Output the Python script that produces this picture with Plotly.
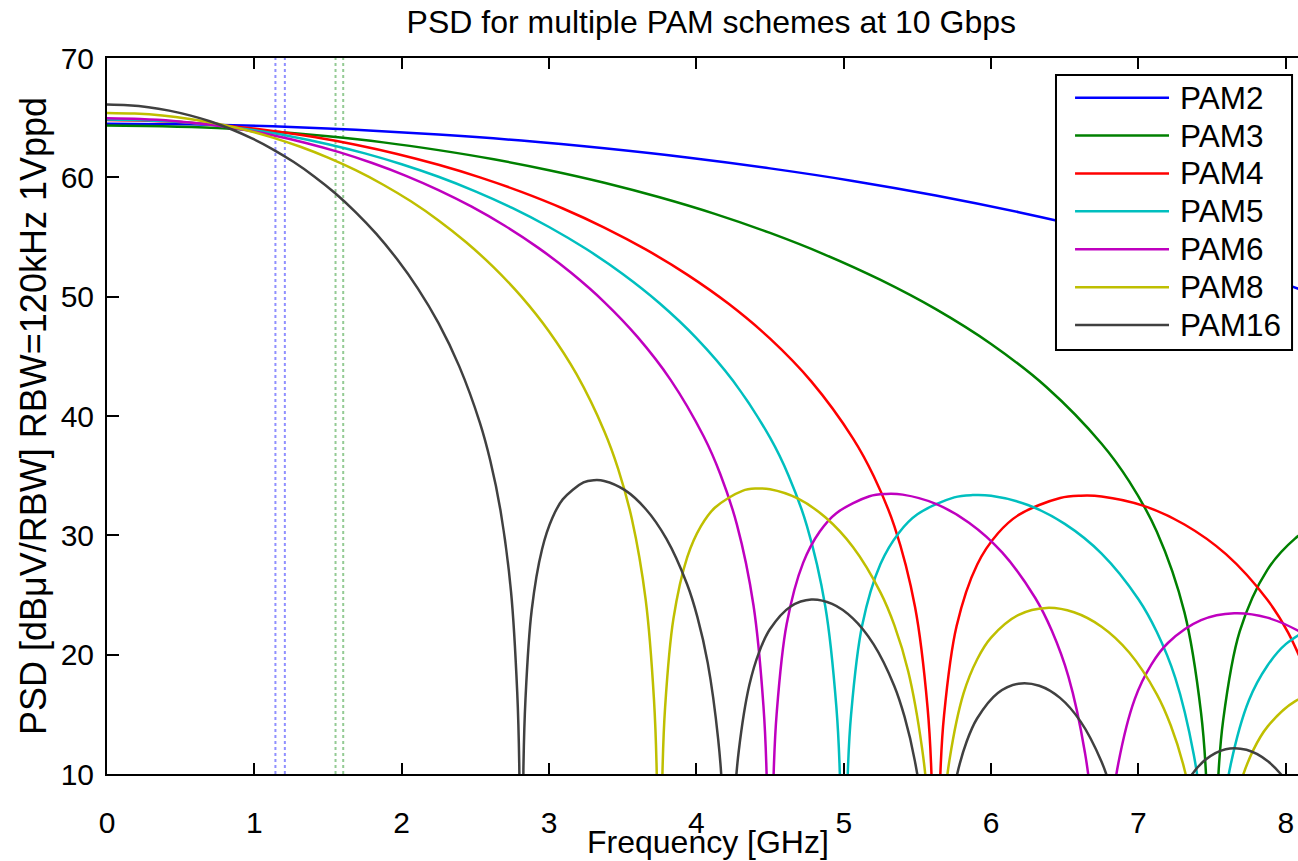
import plotly.graph_objects as go

# ---------------- data ----------------
series_names = ["PAM2", "PAM3", "PAM4", "PAM5", "PAM6", "PAM8", "PAM16"]

f_pam2 = [0, 0.5625, 1.125, 1.6875, 2.25, 2.8125, 3.375, 3.9375, 4.5, 5.0625,
          5.625, 6.1875, 6.75, 7.3125, 7.875, 8.4375]
psd_pam2 = [64.50, 64.44, 64.28, 63.99, 63.59, 63.08, 62.43, 61.66, 60.75, 59.70,
            58.48, 57.08, 55.49, 53.66, 51.55, 49.10]

f_pam3 = [0, 0.375, 0.75, 1.125, 1.5, 1.875, 2.25, 2.625, 3.0, 3.375, 3.75, 4.125,
          4.5, 4.875, 5.25, 5.625, 6.0, 6.375, 6.75, 6.9375, 7.125, 7.3125, 7.425,
          7.4625, 7.5,
          7.5375, 7.575, 7.6875, 7.875, 8.0625, 8.25]
psd_pam3 = [64.35, 64.29, 64.13, 63.84, 63.44, 62.93, 62.28, 61.51, 60.60, 59.55,
            58.33, 56.94, 55.34, 53.51, 51.40, 48.95, 46.03, 42.43, 37.68, 34.52,
            30.30, 23.54, 15.12, 8.95, -30,
            8.63, 14.49, 21.95, 27.11, 29.72, 31.26]

f_pam4 = [0, 0.281, 0.5625, 0.844, 1.125, 1.406, 1.6875, 1.969, 2.25, 2.531, 2.8125,
          3.094, 3.375, 3.656, 3.9375, 4.219, 4.5, 4.781, 5.0625, 5.203, 5.344,
          5.484, 5.569, 5.597, 5.625,
          5.653, 5.681, 5.766, 5.906, 6.047, 6.1875, 6.469, 6.609, 6.75, 7.031,
          7.3125, 7.594, 7.875, 8.016, 8.156]
psd_pam4 = [64.80, 64.74, 64.58, 64.29, 63.89, 63.38, 62.73, 61.96, 61.05, 60.00,
            58.78, 57.39, 55.79, 53.96, 51.85, 49.40, 46.48, 42.88, 38.13, 34.97,
            30.75, 23.99, 15.57, 9.40, -30,
            9.08, 14.94, 22.40, 27.56, 30.17, 31.71, 33.13, 33.32, 33.26, 32.49,
            30.91, 28.42, 24.60, 21.85, 18.01]

f_pam5 = [0, 0.25, 0.5, 0.75, 1.0, 1.25, 1.5, 1.75, 2.0, 2.25, 2.5, 2.75, 3.0,
          3.25, 3.5, 3.75, 4.0, 4.25, 4.5, 4.625, 4.75, 4.875, 4.95, 4.975, 5.0,
          5.025, 5.05, 5.125, 5.25, 5.375, 5.5, 5.75, 5.875, 6.0, 6.25, 6.5, 6.75,
          7.0, 7.125, 7.25, 7.375, 7.425, 7.5,
          7.575, 7.625, 7.75, 7.875, 8.0, 8.25]
psd_pam5 = [64.85, 64.79, 64.63, 64.34, 63.94, 63.43, 62.78, 62.01, 61.10, 60.05,
            58.83, 57.44, 55.84, 54.01, 51.90, 49.45, 46.53, 42.93, 38.18, 35.02,
            30.80, 24.04, 15.62, 9.45, -30,
            9.13, 14.99, 22.45, 27.61, 30.22, 31.76, 33.18, 33.37, 33.31, 32.54,
            30.96, 28.47, 24.65, 21.90, 18.06, 11.66, 7.06, -30,
            6.50, 10.72, 16.18, 19.07, 20.88, 22.79]

f_pam6 = [0, 0.225, 0.45, 0.675, 0.9, 1.125, 1.35, 1.575, 1.8, 2.025, 2.25, 2.475,
          2.7, 2.925, 3.15, 3.375, 3.6, 3.825, 4.05, 4.1625, 4.275, 4.3875, 4.455,
          4.4775, 4.5,
          4.5225, 4.545, 4.6125, 4.725, 4.8375, 4.95, 5.175, 5.2875, 5.4, 5.625,
          5.85, 6.075, 6.3, 6.4125, 6.525, 6.6375, 6.6825, 6.75,
          6.8175, 6.8625, 6.975, 7.0875, 7.2, 7.425, 7.65, 7.875, 8.1, 8.325]
psd_pam6 = [64.95, 64.89, 64.73, 64.44, 64.04, 63.53, 62.88, 62.11, 61.20, 60.15,
            58.93, 57.54, 55.94, 54.11, 52.00, 49.55, 46.63, 43.03, 38.28, 35.12,
            30.90, 24.14, 15.72, 9.55, -30,
            9.23, 15.09, 22.55, 27.71, 30.32, 31.86, 33.28, 33.47, 33.41, 32.64,
            31.06, 28.57, 24.75, 22.00, 18.16, 11.76, 7.16, -30,
            6.60, 10.82, 16.28, 19.17, 20.98, 22.89, 23.47, 23.10, 21.89, 19.73]

f_pam8 = [0, 0.1875, 0.375, 0.5625, 0.75, 0.9375, 1.125, 1.3125, 1.5, 1.6875,
          1.875, 2.0625, 2.25, 2.4375, 2.625, 2.8125, 3.0, 3.1875, 3.375, 3.469,
          3.5625, 3.656, 3.7125, 3.731, 3.75,
          3.769, 3.7875, 3.844, 3.9375, 4.031, 4.125, 4.3125, 4.406, 4.5, 4.6875,
          4.875, 5.0625, 5.25, 5.344, 5.4375, 5.531, 5.569, 5.625,
          5.681, 5.719, 5.8125, 5.906, 6.0, 6.1875, 6.375, 6.5625, 6.75, 6.9375,
          7.125, 7.219, 7.3125, 7.406, 7.5,
          7.594, 7.6875, 7.781, 7.875, 8.0625, 8.25]
psd_pam8 = [65.40, 65.34, 65.18, 64.89, 64.49, 63.98, 63.33, 62.56, 61.65, 60.60,
            59.38, 57.99, 56.39, 54.56, 52.45, 50.00, 47.08, 43.48, 38.73, 35.57,
            31.35, 24.59, 16.17, 10.00, -30,
            9.68, 15.54, 23.00, 28.16, 30.77, 32.31, 33.73, 33.92, 33.86, 33.09,
            31.51, 29.02, 25.20, 22.45, 18.61, 12.21, 7.61, -30,
            7.05, 11.27, 16.73, 19.62, 21.43, 23.34, 23.92, 23.55, 22.34, 20.18,
            16.68, 14.08, 10.38, 4.12, -30,
            3.44, 9.02, 12.04, 13.95, 16.09, 16.87]

f_pam16 = [0, 0.141, 0.281, 0.422, 0.562, 0.703, 0.844, 0.984, 1.125, 1.265, 1.406,
           1.547, 1.687, 1.828, 1.968, 2.109, 2.250, 2.390, 2.531, 2.601, 2.671,
           2.742, 2.784, 2.798, 2.812,
           2.826, 2.840, 2.882, 2.953, 3.023, 3.093, 3.234, 3.304, 3.374, 3.515,
           3.656, 3.796, 3.937, 4.007, 4.077, 4.148, 4.176, 4.218,
           4.260, 4.288, 4.359, 4.429, 4.499, 4.640, 4.780, 4.921, 5.062, 5.202,
           5.343, 5.413, 5.483, 5.554, 5.624,
           5.694, 5.765, 5.835, 5.905, 6.046, 6.186, 6.327, 6.468, 6.608, 6.749,
           6.819, 6.889, 7.030,
           7.171, 7.311, 7.452, 7.592, 7.733, 7.874, 8.014, 8.155]
psd_pam16 = [66.10, 66.04, 65.88, 65.59, 65.19, 64.68, 64.03, 63.26, 62.35, 61.30,
             60.08, 58.69, 57.09, 55.26, 53.15, 50.70, 47.78, 44.18, 39.43, 36.27,
             32.05, 25.29, 16.87, 10.70, -30,
             10.38, 16.24, 23.70, 28.86, 31.47, 33.01, 34.43, 34.62, 34.56, 33.79,
             32.21, 29.72, 25.90, 23.15, 19.31, 12.91, 8.31, -30,
             7.75, 11.97, 17.43, 20.32, 22.13, 24.04, 24.62, 24.25, 23.04, 20.88,
             17.38, 14.78, 11.08, 4.82, -30,
             4.14, 9.72, 12.74, 14.65, 16.79, 17.57, 17.40, 16.38, 14.39, 11.05,
             8.53, 4.91, -30,
             3.84, 8.91, 11.17, 12.08, 12.03, 11.11, 9.23, 6.00]

# dotted marker frequencies (GHz)
marker_f_blue = [1.143, 1.207]
marker_f_green = [1.551, 1.603]

x_ticks = [0, 1, 2, 3, 4, 5, 6, 7, 8]
y_ticks = [10, 20, 30, 40, 50, 60, 70]

# ---------------- styling ----------------
colors = ["#0000ff", "#008000", "#ff0000", "#00bfbf", "#bf00bf", "#bfbf00", "#404040"]
freqs = [f_pam2, f_pam3, f_pam4, f_pam5, f_pam6, f_pam8, f_pam16]
psds = [psd_pam2, psd_pam3, psd_pam4, psd_pam5, psd_pam6, psd_pam8, psd_pam16]

FONT = "Liberation Sans, Arial, Helvetica, sans-serif"

fig = go.Figure()

for name, fx, py, c in zip(series_names, freqs, psds, colors):
    fig.add_trace(go.Scatter(x=fx, y=py, mode="lines", name=name,
                             line=dict(color=c, width=2.5, shape="spline", smoothing=1.0),
                             showlegend=False))

shapes = []
for v in marker_f_blue:
    shapes.append(dict(type="line", xref="x", yref="paper", x0=v, x1=v, y0=0, y1=1,
                       line=dict(color="rgba(70,70,255,0.6)", width=2, dash="dot"),
                       layer="below"))
for v in marker_f_green:
    shapes.append(dict(type="line", xref="x", yref="paper", x0=v, x1=v, y0=0, y1=1,
                       line=dict(color="rgba(60,160,60,0.55)", width=2, dash="dot"),
                       layer="below"))

# manual legend (box, line samples, labels) in paper coordinates
shapes.append(dict(type="rect", xref="paper", yref="paper", x0=0.7968, x1=0.9950,
                   y0=0.5922, y1=0.9763, line=dict(color="black", width=2),
                   fillcolor="white", layer="above"))
row_y = [0.9446, 0.8916, 0.8387, 0.7858, 0.7328, 0.6799, 0.6270]
annotations = []
for name, c, ry in zip(series_names, colors, row_y):
    shapes.append(dict(type="line", xref="paper", yref="paper", x0=0.8128, x1=0.8917,
                       y0=ry, y1=ry, line=dict(color=c, width=2.5), layer="above"))
    annotations.append(dict(xref="paper", yref="paper", x=0.8992, y=ry, text=name,
                            showarrow=False, xanchor="left", yanchor="middle",
                            font=dict(family=FONT, size=31.5, color="black")))

# x-axis title placed as text below the tick labels
annotations.append(dict(xref="paper", yref="paper", x=0.505, y=-0.0950,
                        text="Frequency [GHz]", showarrow=False,
                        xanchor="center", yanchor="middle",
                        font=dict(family=FONT, size=32, color="black")))

fig.update_layout(
    width=1298, height=861,
    margin=dict(l=107, r=0, t=58, b=87, autoexpand=False),
    paper_bgcolor="white", plot_bgcolor="white",
    font=dict(family=FONT, color="black"),
    title=dict(text="PSD for multiple PAM schemes at 10 Gbps", x=0.548, xref="container",
               xanchor="center", y=0.9744, yref="container", yanchor="middle",
               font=dict(family=FONT, size=32, color="black")),
    shapes=shapes,
    annotations=annotations,
    showlegend=False,
)

fig.update_xaxes(range=[0, 8.083], tickvals=x_ticks, ticktext=[str(t) for t in x_ticks],
                 ticks="inside", ticklen=11, tickwidth=2, tickcolor="black",
                 showline=True, linecolor="black", linewidth=2, mirror="ticks",
                 showgrid=False, zeroline=False, ticklabelstandoff=21,
                 tickfont=dict(family=FONT, size=30, color="black"))
fig.update_yaxes(range=[10, 70], tickvals=y_ticks, ticktext=[str(t) for t in y_ticks],
                 ticks="inside", ticklen=12, tickwidth=2, tickcolor="black",
                 showline=True, linecolor="black", linewidth=2, mirror=False,
                 showgrid=False, zeroline=False, ticklabelstandoff=5,
                 tickfont=dict(family=FONT, size=30, color="black"),
                 title=dict(text="PSD [dBμV/RBW] RBW=120kHz 1Vppd", standoff=3,
                            font=dict(family=FONT, size=36, color="black")))

fig.write_html("out.html")
